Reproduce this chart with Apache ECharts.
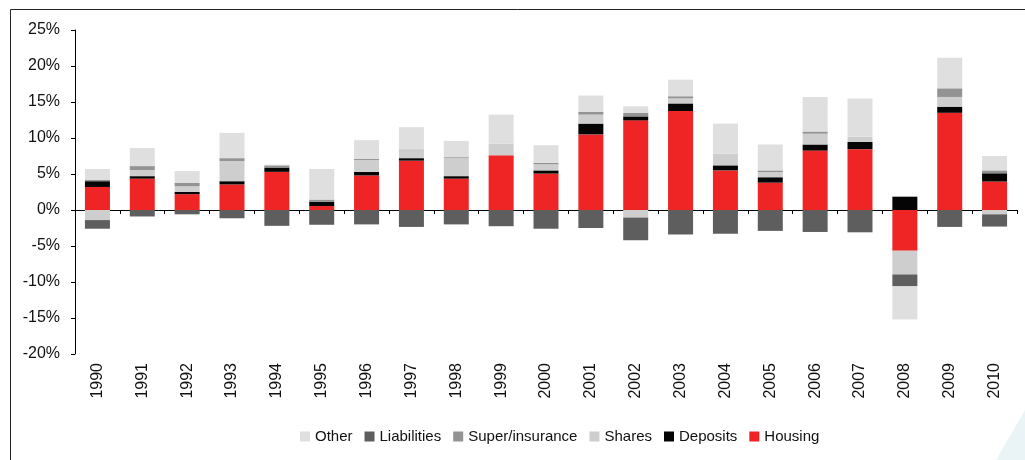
<!DOCTYPE html>
<html>
<head>
<meta charset="utf-8">
<script src="https://cdn.jsdelivr.net/npm/echarts@6/dist/echarts.min.js"></script>
<style>
    html, body { margin: 0; padding: 0; background: #fff; }
    #chart { width: 1025px; height: 460px; }
</style>
</head>
<body>
<div id="chart"></div>
<script>
const years = ['1990', '1991', '1992', '1993', '1994', '1995', '1996', '1997', '1998', '1999', '2000',
    '2001', '2002', '2003', '2004', '2005', '2006', '2007', '2008', '2009', '2010']

// contributions, percentage points
const housing = [3.2, 4.35, 2.2, 3.55, 5.3, 0.55, 4.8, 6.85, 4.35, 7.6, 5.05, 10.5, 12.45, 13.75, 5.5, 3.8, 8.25, 8.45, -5.65, 13.5, 3.95]
const deposits = [0.8, 0.35, 0.3, 0.45, 0.6, 0.6, 0.5, 0.35, 0.35, 0, 0.45, 1.5, 0.55, 1.05, 0.7, 0.75, 0.85, 1.0, 1.85, 0.85, 1.15]
const shares = [-1.4, 0.85, 0.8, 2.8, 0, 0, 1.65, 1.1, 2.55, 1.6, 0.85, 1.25, -1.05, 0.7, 1.6, 0.7, 1.5, 0.75, -3.3, 1.35, -0.6]
const superIns = [0.2, 0.55, 0.45, 0.4, 0.3, 0.3, 0.15, 0.1, 0.1, 0, 0.2, 0.4, 0.5, 0.3, 0, 0.25, 0.3, 0, 0, 1.2, 0.4]
const liabilities = [-1.2, -0.9, -0.6, -1.15, -2.2, -2.05, -2.0, -2.35, -2.0, -2.25, -2.6, -2.5, -3.15, -3.4, -3.3, -2.9, -3.05, -3.1, -1.65, -2.35, -1.7]
const other = [1.5, 2.5, 1.65, 3.5, 0.1, 4.25, 2.6, 3.1, 2.25, 4.05, 2.45, 2.25, 0.9, 2.3, 4.2, 3.6, 4.8, 5.3, -4.6, 4.25, 2.0]

const legendOrder = ['Other', 'Liabilities', 'Super/insurance', 'Shares', 'Deposits', 'Housing']
const fontFamily = 'Arial, "Liberation Sans", sans-serif'

// stacking order from zero outwards
const stackList = [
    {name: 'Housing', data: housing, color: '#ee2524'},
    {name: 'Deposits', data: deposits, color: '#050505'},
    {name: 'Shares', data: shares, color: '#cdcecd'},
    {name: 'Super/insurance', data: superIns, color: '#939393'},
    {name: 'Liabilities', data: liabilities, color: '#5e5e5e'},
    {name: 'Other', data: other, color: '#dfdfdf'}
]

const seriesData = []
stackList.forEach((item) => {
    seriesData.push({
        name: item.name,
        type: 'bar',
        stack: 'total',
        barWidth: 25,
        xAxisIndex: 0,
        itemStyle: {color: item.color},
        emphasis: {disabled: true},
        data: item.data
    })
})

const chart = echarts.init(document.getElementById('chart'))
chart.setOption({
    animation: false,
    textStyle: {fontFamily: fontFamily},
    grid: {left: 75, right: 8, top: 30, bottom: 106, containLabel: false},
    legend: {
        data: legendOrder,
        bottom: 11,
        left: 295,
        icon: 'rect',
        itemWidth: 10,
        itemHeight: 10,
        itemGap: 12,
        textStyle: {fontSize: 15, color: '#111', fontFamily: fontFamily}
    },
    xAxis: [
        {
            // labels along the bottom
            type: 'category',
            data: years,
            position: 'bottom',
            axisLine: {show: false, onZero: false},
            axisTick: {show: false},
            axisLabel: {rotate: 90, fontSize: 16, color: '#111', margin: 9, fontFamily: fontFamily}
        },
        {
            // zero line with ticks
            type: 'category',
            data: years,
            position: 'bottom',
            axisLine: {show: true, onZero: true, lineStyle: {color: '#000', width: 1}},
            axisTick: {show: true, length: 4, lineStyle: {color: '#000'}},
            axisLabel: {show: false}
        }
    ],
    yAxis: {
        type: 'value',
        min: -20,
        max: 25,
        interval: 5,
        axisLine: {show: true, lineStyle: {color: '#000', width: 1}},
        axisTick: {show: true, length: 4, lineStyle: {color: '#000'}},
        splitLine: {show: false},
        axisLabel: {formatter: '{value}%', fontSize: 16, color: '#111', margin: 15, fontFamily: fontFamily}
    },
    graphic: [
        {type: 'line', shape: {x1: 10.5, y1: 9.5, x2: 1025, y2: 9.5}, style: {stroke: '#222', lineWidth: 1}},
        {type: 'line', shape: {x1: 10.5, y1: 9.5, x2: 10.5, y2: 460}, style: {stroke: '#222', lineWidth: 1}},
        {type: 'polygon', shape: {points: [[996, 460], [1025, 410], [1025, 460]]}, style: {fill: '#eaf4f6'}, z: -1}
    ],
    series: seriesData
})
</script>
</body>
</html>
